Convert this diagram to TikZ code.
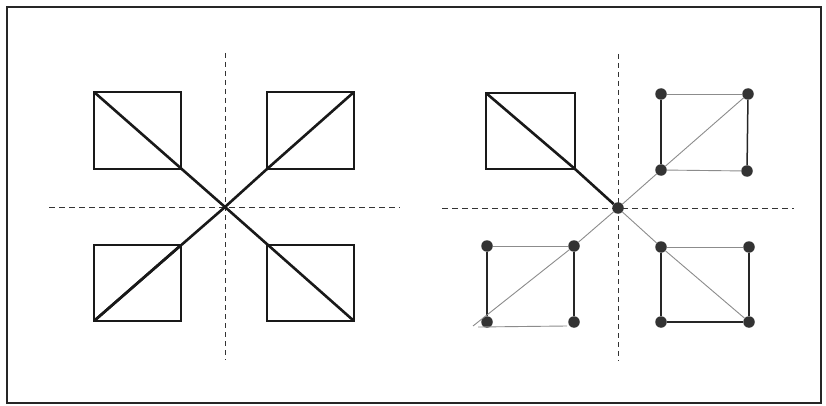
\documentclass[tikz,border=0pt]{standalone}
\begin{document}
\begin{tikzpicture}[x=1pt,y=-1pt,
  frame/.style={line width=1.6pt, black!85},
  sq/.style={line width=2.6pt, black!90, line join=miter},
  axis/.style={line width=1pt, black!80, dash pattern=on 6pt off 4pt},
  vaxis/.style={line width=1pt, black!80, dash pattern=on 5pt off 4pt},
  dot/.style={circle, fill=black!80, inner sep=0pt, minimum size=11.5pt},
  thin/.style={line width=0.9pt, black!45},
  dark/.style={line width=1.5pt, black!85}]
\useasboundingbox (0,0) rectangle (826,406);
\fill[white] (0,0) rectangle (826,406);
\draw[frame] (7,7) rectangle (821,403);

% ---------- left panel ----------
\coordinate (C) at (225,207);
\draw[vaxis] (225,53) -- (225,360);
\draw[axis] (49,207) -- (400,207);
% squares
\coordinate (a1) at (94,92);  \coordinate (a2) at (181,169);
\coordinate (b1) at (267,92); \coordinate (b2) at (354,169);
\coordinate (c1) at (94,245); \coordinate (c2) at (181,321);
\coordinate (d1) at (267,245);\coordinate (d2) at (354,321);
\draw[sq] (a1) rectangle (a2);
\draw[sq] (b1) rectangle (b2);
\draw[sq] (c1) rectangle (c2);
\draw[sq] (d1) rectangle (d2);
\draw[sq] (a1) -- (C) -- (d2);
\draw[sq] (b1 |- b2) -- (b1 -| b2);
\draw[sq] (c1 |- c2) -- (C) -- (b1 |- b2);
\draw[sq] (c1 |- c2) -- (c1 -| c2);

% ---------- right panel ----------
\draw[vaxis] (618,54) -- (618,361);
\draw[axis] (442,208) -- (794,208);
\coordinate (e1) at (486,93); \coordinate (e2) at (575,169);
\draw[sq] (e1) rectangle (e2);
\node[dot] (O) at (618,208) {};
\draw[sq] (e1) -- (e2) -- (O);

% top-right dots
\node[dot] (p1) at (661,94) {};
\node[dot] (p2) at (748,94) {};
\node[dot] (p3) at (661,170) {};
\node[dot] (p4) at (747,171) {};
% bottom-left dots
\node[dot] (q1) at (487,246) {};
\node[dot] (q2) at (574,246) {};
\node[dot] (q3) at (487,322) {};
\node[dot] (q4) at (574,322) {};
% bottom-right dots
\node[dot] (r1) at (661,247) {};
\node[dot] (r2) at (749,247) {};
\node[dot] (r3) at (661,322) {};
\node[dot] (r4) at (749,322) {};

% top-right square
\draw[thin] (p1) -- (p2);
\draw[thin] (p3) -- (p4);
\draw[dark] (p1) -- (p3);
\draw[dark] (p2) -- (p4);
\draw[thin] (p3) -- (p2);
\draw[thin] (O) -- (p3);
% bottom-left square
\draw[thin] (q1) -- (q2);
\draw[dark] (q1) -- (q3);
\draw[dark] (q2) -- (q4);
\coordinate (qt) at (473,326);
\coordinate (qb) at (478,327);
\coordinate (qe) at (567,326);
\draw[thin] (qb) -- (qe);
\draw[thin] (qt) -- (q2);
\draw[thin] (q2) -- (O);
% bottom-right square
\draw[thin] (r1) -- (r2);
\draw[dark] (r1) -- (r3);
\draw[dark] (r2) -- (r4);
\draw[dark] (r3) -- (r4);
\draw[thin] (r1) -- (r4);
\draw[thin] (O) -- (r1);
\end{tikzpicture}
\end{document}
